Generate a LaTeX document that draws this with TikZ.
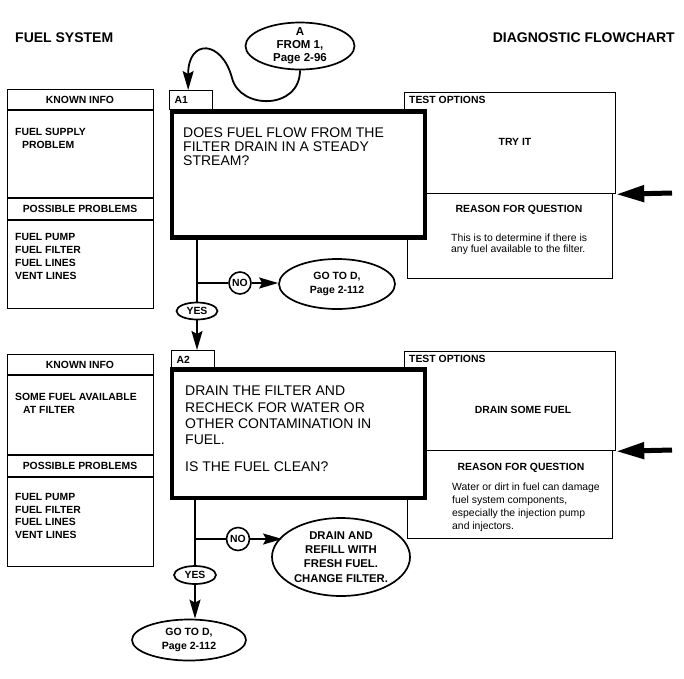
\documentclass[tikz,border=0pt]{standalone}
\usepackage{fontspec}
\setmainfont{Liberation Sans}
\usetikzlibrary{arrows.meta,shapes.geometric}

\newcommand\titlefont{\fontsize{14}{16}\selectfont\bfseries}
\newcommand\capsfont{\fontsize{10.4}{13}\selectfont\bfseries}
\newcommand\askfont{\fontsize{14}{14}\selectfont}
\newcommand\notefont{\fontsize{10.4}{11.7}\selectfont}

\tikzset{
  title/.style={font=\titlefont, inner sep=0pt},
  caps/.style={font=\capsfont, inner sep=0pt},
  list/.style={align=left},
  note/.style={font=\notefont, inner sep=0pt, align=left},
  asktext/.style={font=\askfont, inner sep=0pt, align=left},
  panel/.style={draw, line width=1.3pt, inner sep=0pt},
  ask/.style={draw, line width=4.5pt, fill=white, inner sep=0pt},
  tab/.style={draw, line width=1.4pt, font=\capsfont, text width=33pt,
    inner xsep=5pt, inner ysep=0pt, minimum height=19pt, align=left},
  oval/.style={ellipse, draw, line width=1.7pt, inner sep=0pt, align=center},
  ovaltext/.style={font=\fontsize{10.5}{13.5}\selectfont\bfseries},
  answer/.style={circle, draw, line width=1.6pt, font=\capsfont,
    minimum size=22pt, inner sep=0pt},
  link/.style={line width=1.8pt},
  arr/.style={-{Stealth[length=19pt,width=11pt,inset=3pt]}},
  feed/.style={line width=5pt, -{Triangle[length=28pt,width=16pt]}},
}

\begin{document}
\begin{tikzpicture}[x=1pt, y=-1pt]
\useasboundingbox (0,0) rectangle (684,678);

% headings
\node[title, anchor=west] (sys) at (15,38) {FUEL SYSTEM};
\node[title, anchor=east] (chart) at (675,38) {DIAGNOSTIC FLOWCHART};

% entry point
\node[oval, font=\fontsize{11.5}{13}\selectfont\bfseries,
  minimum width=109pt, minimum height=47pt, inner ysep=-4pt]
  (fromA) at (300,46) {A\\FROM 1,\\Page 2-96};

% ---------- step A1 ----------
\node[panel, minimum width=146pt, minimum height=219pt, anchor=north west] (k1) at (7,89) {};
\draw[panel] (7,110) -- (153,110) (7,198) -- (153,198) (7,220) -- (153,220);
\node[caps] (k1hdr) at (80,100) {KNOWN INFO};
\node[caps, list, anchor=north west] (k1txt) at (15,128.4)
  {FUEL SUPPLY\\\hspace*{7pt}PROBLEM};
\node[caps] (p1hdr) at (80,209) {POSSIBLE PROBLEMS};
\node[caps, list, anchor=north west] (p1txt) at (15,233.4)
  {FUEL PUMP\\FUEL FILTER\\FUEL LINES\\VENT LINES};

\node[panel, minimum width=211pt, minimum height=101pt, anchor=north west] (opt1) at (404,92) {};
\node[panel, minimum width=205pt, minimum height=85pt, anchor=north west] (why1) at (407,193) {};
\node[caps, anchor=west] (opt1hdr) at (409,100) {TEST OPTIONS};
\node[caps] (opt1txt) at (515,142) {TRY IT};
\node[caps] (why1hdr) at (519,210) {REASON FOR QUESTION};
\node[note, anchor=north west] (why1txt) at (451,233.5)
  {This is to determine if there is\\any fuel available to the filter.};

\node[tab, anchor=north west] (a1) at (169,90) {A1};
\node[ask, minimum width=253pt, minimum height=126pt] (q1) at (298.5,174.5) {};
\node[asktext, anchor=north west] (q1txt) at (183,128)
  {DOES FUEL FLOW FROM THE\\FILTER DRAIN IN A STEADY\\STREAM?};

\node[oval, caps, minimum width=41pt, minimum height=17pt] (yes1) at (197,311) {YES};
\node[answer] (no1) at (240,283) {NO};
\node[oval, ovaltext, minimum width=116pt, minimum height=50pt] (goto1) at (337,284)
  {GO TO D,\\Page 2-112};
\coordinate (b1) at (yes1 |- no1);
\coordinate (in1) at (672,193);

\draw[link, arr] (fromA.south) .. controls (300,110) and (240,110) .. (232,78)
  .. controls (222,40) and (188,38) .. ([xshift=-3pt]a1.north);
\draw[link] (yes1 |- q1.south) -- (yes1.north);
\draw[link] (b1) -- (no1);
\draw[link, arr] (no1) -- (no1 -| goto1.west);
\draw[feed] (in1) -- (opt1.south east);

% ---------- step A2 ----------
\node[panel, minimum width=146pt, minimum height=212pt, anchor=north west] (k2) at (7,354) {};
\draw[panel] (7,375) -- (153,375) (7,455) -- (153,455) (7,477) -- (153,477);
\node[caps] (k2hdr) at (80,365) {KNOWN INFO};
\node[caps, list, anchor=north west] (k2txt) at (15,393.4)
  {SOME FUEL AVAILABLE\\\hspace*{8pt}AT FILTER};
\node[caps] (p2hdr) at (80,466) {POSSIBLE PROBLEMS};
\node[caps, list, anchor=north west, font=\fontsize{10.4}{12.5}\selectfont\bfseries]
  (p2txt) at (15,493.4) {FUEL PUMP\\FUEL FILTER\\FUEL LINES\\VENT LINES};

\node[panel, minimum width=211pt, minimum height=99pt, anchor=north west] (opt2) at (404,351) {};
\node[panel, minimum width=205pt, minimum height=88pt, anchor=north west] (why2) at (407,450) {};
\node[caps, anchor=west] (opt2hdr) at (409,359) {TEST OPTIONS};
\node[caps] (opt2txt) at (523,410) {DRAIN SOME FUEL};
\node[caps] (why2hdr) at (521,468) {REASON FOR QUESTION};
\node[note, anchor=north west, font=\fontsize{10.4}{13}\selectfont] (why2txt) at (452,482.5)
  {Water or dirt in fuel can damage\\fuel system components,\\especially the injection pump\\and injectors.};

\node[tab, anchor=north west] (a2) at (171,350) {A2};
\node[ask, minimum width=253pt, minimum height=128.5pt] (q2) at (298.5,433.75) {};
\node[asktext, anchor=north west, font=\fontsize{14}{16.3}\selectfont] (q2txt) at (185,386)
  {DRAIN THE FILTER AND\\RECHECK FOR WATER OR\\OTHER CONTAMINATION IN\\FUEL.\\[10.5pt]IS THE FUEL CLEAN?};

\node[oval, caps, minimum width=42pt, minimum height=18pt] (yes2) at (195,575) {YES};
\node[answer, minimum size=23pt] (no2) at (238,539) {NO};
\node[oval, font=\fontsize{11.3}{14.3}\selectfont\bfseries, minimum width=138pt,
  minimum height=78pt, inner xsep=-3pt, inner ysep=-5pt] (drain) at (341,557)
  {DRAIN AND\\REFILL WITH\\FRESH FUEL.\\CHANGE FILTER.};
\node[oval, ovaltext, minimum width=114pt, minimum height=41pt] (goto2) at (189,640)
  {GO TO D,\\Page 2-112};
\coordinate (b2) at (yes2 |- no2);
\coordinate (in2) at (672,450);

\draw[link, arr] (yes1) -- (yes1 |- a2.north);
\draw[link] (yes2 |- q2.south) -- (yes2.north);
\draw[link] (b2) -- (no2);
\draw[link, arr] (no2) -- (no2 -| drain.160);
\draw[link, arr] (yes2) -- (yes2 |- goto2.north);
\draw[feed] (in2) -- (opt2.south east);
\end{tikzpicture}
\end{document}
